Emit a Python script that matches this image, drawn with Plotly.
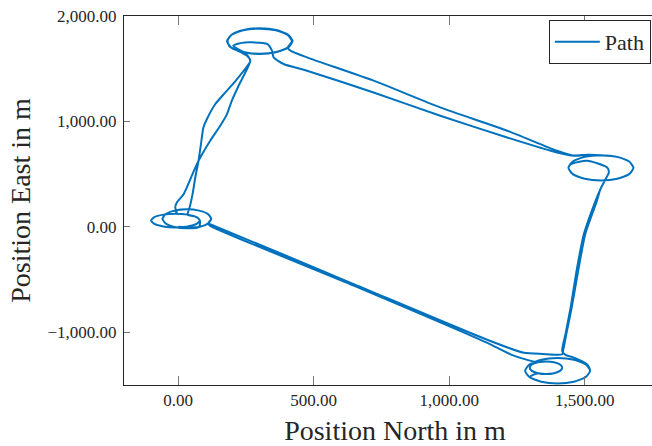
import plotly.graph_objects as go

# ---- path segments (North, East) in metres ----
home_start_n = [0, 77, 110, 122, 110, 77, 32, -13, -46, -58, -46, -13, 32, 77, 110, 122, 110, 77, 32, -13, -5]
home_start_e = [0, -2, 31, 76, 121, 154, 166, 154, 121, 76, 31, -2, -14, -2, 31, 76, 121, 154, 166, 154, 136]

climb1_n = [-11, -5, 20, 50, 75, 118, 155, 180, 198, 223, 266, 255, 220]
climb1_e = [183, 231, 310, 484, 627, 817, 959, 1070, 1197, 1339, 1576, 1620, 1670]

tl_loop1_n = [196, 180, 196, 240, 300, 360, 404, 420, 404, 360, 300, 240, 196, 180, 196, 240, 300, 360, 404, 420, 404]
tl_loop1_e = [1700, 1760, 1820, 1864, 1880, 1864, 1820, 1760, 1700, 1656, 1640, 1656, 1700, 1760, 1820, 1864, 1880, 1864, 1820, 1760, 1700]

leg_east1_n = [414, 475, 721, 967, 1214, 1398, 1460, 1509]
leg_east1_e = [1671, 1608, 1387, 1133, 912, 722, 674, 684]

r_loop_n = [1560, 1620, 1664, 1680, 1664, 1620, 1560, 1500, 1456, 1440, 1456, 1500, 1560, 1620, 1664, 1680, 1664, 1620, 1560, 1500, 1456, 1440,
            1448, 1509, 1583, 1589, 1577, 1558]
r_loop_e = [680, 664, 620, 560, 500, 456, 440, 456, 500, 560, 620, 664, 680, 664, 620, 560, 500, 456, 440, 456, 500, 560,
            595, 627, 563, 516, 453, 358]

descent1_n = [1540, 1497, 1472, 1448, 1429, 1417, 1429, 1460, 1509]
descent1_e = [247, -69, -387, -766, -1019, -1178, -1215, -1241, -1304]

br_loop_n = [1520, 1504, 1460, 1400, 1340, 1296, 1280, 1296, 1340, 1400, 1460, 1504, 1520, 1504, 1460, 1400, 1340, 1296,
             1327, 1357, 1387, 1409, 1417, 1409, 1387, 1357, 1327, 1305, 1297, 1305, 1327, 1357, 1387, 1409, 1417, 1409, 1387, 1357, 1327]
br_loop_e = [-1365, -1425, -1469, -1485, -1469, -1425, -1365, -1305, -1261, -1245, -1261, -1305, -1365, -1425, -1469, -1485, -1469, -1425,
             -1388, -1396, -1388, -1366, -1336, -1306, -1284, -1276, -1284, -1306, -1336, -1366, -1388, -1396, -1388, -1366, -1336, -1306, -1284, -1276, -1284]

return1_n = [1288, 1226, 1152, 650, 118]
return1_e = [-1262, -1209, -1114, -560, 10]

home_mid_n = [110, 122, 110, 77, 32, -13, -46, -58, -46, -13, 32, 77, 80, 68, 35, -10, -55, -88, -100, -88, -55, -10, 35, 68, 80, 68, 35, 38]
home_mid_e = [31, 76, 121, 154, 166, 154, 121, 76, 31, -2, -14, -2, 60, 93, 116, 125, 116, 93, 60, 28, 4, -5, 4, 28, 60, 93, 116, 152]

climb2_n = [42, 53, 63, 75, 84, 93, 106, 137, 174, 217, 266, 250, 215]
climb2_e = [183, 310, 468, 627, 785, 943, 1023, 1165, 1275, 1402, 1576, 1640, 1680]

tl_loop2_n = [190, 182, 198, 242, 302, 362, 406, 422, 406, 362, 302, 242, 203, 235, 266, 328, 346, 352]
tl_loop2_e = [1710, 1765, 1825, 1868, 1884, 1868, 1822, 1762, 1702, 1658, 1642, 1658, 1719, 1745, 1750, 1735, 1671, 1608]

leg_east2_n = [389, 475, 721, 967, 1214, 1398, 1460, 1509]
leg_east2_e = [1545, 1481, 1275, 1054, 848, 706, 676, 684]

descent2_n = [1545, 1502, 1478, 1452, 1432, 1420, 1417, 1345, 1275, 1152]
descent2_e = [247, -69, -387, -766, -1019, -1178, -1209, -1205, -1194, -1083]

return2_n = [650, 118, 110, 122, 110, 77, 32, -13, -46, -58, -46, -13, 32]
return2_e = [-545, 25, 31, 76, 121, 154, 166, 154, 121, 76, 31, -2, -14]

segments = [
    (home_start_n, home_start_e), (climb1_n, climb1_e), (tl_loop1_n, tl_loop1_e),
    (leg_east1_n, leg_east1_e), (r_loop_n, r_loop_e), (descent1_n, descent1_e),
    (br_loop_n, br_loop_e), (return1_n, return1_e), (home_mid_n, home_mid_e),
    (climb2_n, climb2_e), (tl_loop2_n, tl_loop2_e), (leg_east2_n, leg_east2_e),
    (r_loop_n, r_loop_e), (descent2_n, descent2_e), (return2_n, return2_e),
]
north, east = [], []
for n, e in segments:
    north += n
    east += e

x_tick_vals = [0, 500, 1000, 1500]
x_tick_text = ["0.00", "500.00", "1,000.00", "1,500.00"]
y_tick_vals = [-1000, 0, 1000, 2000]
y_tick_text = ["\u22121,000.00", "0.00", "1,000.00", "2,000.00"]

FONT = "Liberation Serif, Times New Roman, serif"
TXT = "#262626"

fig = go.Figure()
fig.add_trace(go.Scatter(x=north, y=east, mode="lines", name="Path",
                         line=dict(color="#0072BD", width=2, shape="spline", smoothing=0.6)))

# The original figure is cropped at its right side: the axes box continues
# a little past the visible 652 px edge.
fig.update_layout(
    width=666, height=446, autosize=False,
    margin=dict(l=124, r=0, t=16, b=61),
    paper_bgcolor="white", plot_bgcolor="white",
    font=dict(family=FONT, color=TXT),
    showlegend=True,
    legend=dict(x=0.972, xanchor="right", y=0.989, yanchor="top",
                bgcolor="white", bordercolor=TXT, borderwidth=1, itemwidth=45,
                font=dict(family=FONT, size=22, color=TXT)),
)
fig.update_xaxes(range=[-200, 1800], showgrid=False, zeroline=False,
                 showline=True, linecolor=TXT, linewidth=1, mirror="ticks",
                 ticks="inside", ticklen=9, tickcolor="#777", tickwidth=1,
                 tickvals=x_tick_vals, ticktext=x_tick_text,
                 tickfont=dict(family=FONT, size=17, color=TXT),
                 title=dict(text="Position North in m", font=dict(family=FONT, size=28, color=TXT), standoff=14))
fig.update_yaxes(range=[-1500, 2000], showgrid=False, zeroline=False,
                 showline=True, linecolor=TXT, linewidth=1, mirror="ticks",
                 ticks="inside", ticklen=6, tickcolor="#777", tickwidth=1,
                 tickvals=y_tick_vals, ticktext=y_tick_text, ticklabelstandoff=3,
                 tickfont=dict(family=FONT, size=17, color=TXT),
                 title=dict(text="Position East in m", font=dict(family=FONT, size=28, color=TXT), standoff=8))

fig.write_html("out.html", config={"displayModeBar": False},
               post_script="document.body.style.margin='0';document.body.style.overflow='hidden';")
